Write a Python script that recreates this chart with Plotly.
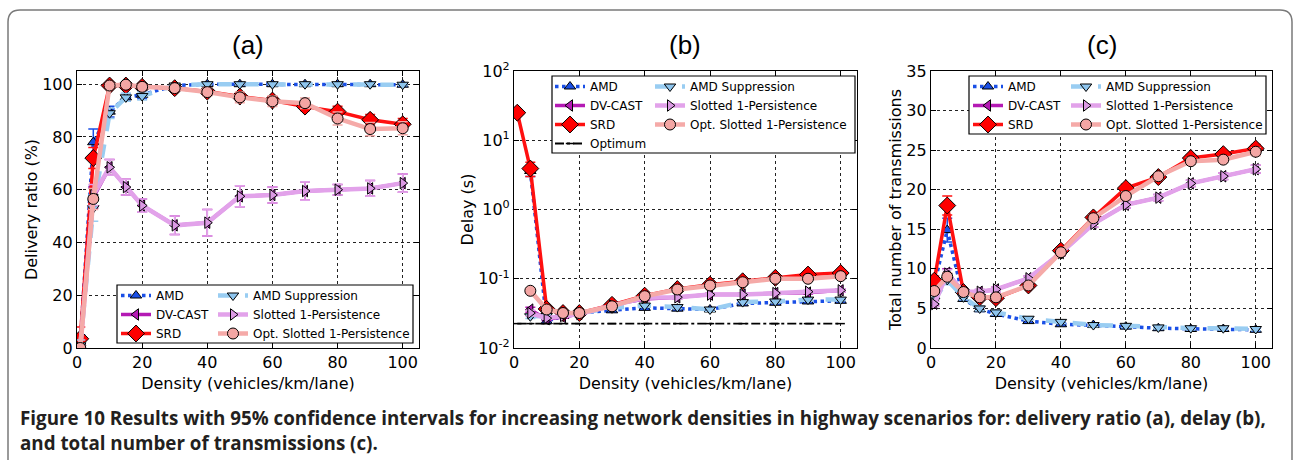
import plotly.graph_objects as go

W, H = 1294, 460

# ---------------- data ----------------
density = [1, 5, 10, 15, 20, 30, 40, 50, 60, 70, 80, 90, 100]

series_names = ["AMD", "DV-CAST", "SRD", "AMD Suppression",
                "Slotted 1-Persistence", "Opt. Slotted 1-Persistence"]

# (a) delivery ratio (%)
dr_amd      = [2.0, 78.0, 89.6, 95.0, 96.0, 99.5, 100, 100, 100, 100, 100, 100, 99.8]
dr_dvcast   = [0.0, 57.0, 68.5, 61.0, 54.0, 46.5, 47.5, 57.5, 58.0, 59.5, 60.0, 60.5, 62.5]
dr_srd      = [3.5, 72.0, 99.5, 99.5, 99.0, 98.5, 97.2, 95.3, 93.8, 91.5, 89.6, 86.5, 84.8]
dr_amdsup   = [1.0, 53.0, 89.0, 95.0, 95.5, 99.5, 100, 100, 100, 100, 100, 100, 99.8]
dr_slotted  = [0.0, 58.0, 68.5, 61.0, 54.0, 46.5, 47.5, 57.5, 58.0, 59.5, 60.0, 60.5, 62.5]
dr_opt      = [0.0, 56.5, 99.5, 99.8, 99.0, 98.5, 97.0, 95.0, 93.5, 92.8, 87.0, 83.0, 83.3]

dr_amd_e     = [3, 5, 2, 1.5, 1.5, 0.5, 0.3, 0.3, 0.3, 0.3, 0.3, 0.3, 0.3]
dr_dvcast_e  = [1, 4, 3, 3, 2.5, 3.5, 5, 4, 3, 3.5, 2, 3, 3.5]
dr_srd_e     = [4.5, 4, 0.5, 0.5, 0.5, 0.8, 1.2, 1.5, 1.5, 1.5, 2, 2, 2.2]
dr_amdsup_e  = [2, 5, 2, 1.5, 1.5, 0.5, 0.3, 0.3, 0.3, 0.3, 0.3, 0.3, 0.3]
dr_slotted_e = [1, 4, 3, 3, 2.5, 3.5, 5, 4, 3, 3.5, 2, 3, 3.5]
dr_opt_e     = [1, 4, 0.5, 0.5, 0.8, 1, 1.5, 2, 2, 2, 2.5, 2.5, 2.5]

# (b) delay (s)
dl_amd      = [None, 3.6, 0.0243, 0.029, 0.032, 0.035, 0.038, 0.037, 0.036, 0.044, 0.045, 0.047, 0.048]
dl_dvcast   = [None, 0.0358, 0.026, 0.028, 0.031, 0.042, 0.051, 0.054, 0.059, 0.059, 0.062, 0.063, 0.068]
dl_srd      = [25.0, 3.9, 0.0366, 0.032, 0.032, 0.042, 0.057, 0.071, 0.082, 0.092, 0.103, 0.115, 0.121]
dl_amdsup   = [None, 0.0287, 0.029, 0.032, 0.032, 0.038, 0.041, 0.039, 0.036, 0.046, 0.047, 0.050, 0.050]
dl_slotted  = [None, 0.032, 0.027, 0.029, 0.031, 0.041, 0.053, 0.054, 0.059, 0.059, 0.062, 0.065, 0.068]
dl_opt      = [None, 0.067, 0.036, 0.032, 0.032, 0.040, 0.056, 0.070, 0.080, 0.089, 0.100, 0.100, 0.109]
dl_optimum  = [0.0225] * 13

dl_amd_e     = [0, 0.6, 0.001, 0.001, 0.001, 0.002, 0.002, 0.002, 0.002, 0.002, 0.002, 0.002, 0.002]
dl_dvcast_e  = [0, 0.003, 0.001, 0.001, 0.001, 0.002, 0.003, 0.003, 0.003, 0.003, 0.003, 0.003, 0.004]
dl_srd_e     = [2.0, 0.9, 0.002, 0.001, 0.001, 0.002, 0.003, 0.003, 0.004, 0.004, 0.005, 0.005, 0.006]
dl_amdsup_e  = [0, 0.002, 0.001, 0.001, 0.001, 0.002, 0.002, 0.002, 0.002, 0.002, 0.002, 0.002, 0.002]
dl_slotted_e = [0, 0.003, 0.001, 0.001, 0.001, 0.002, 0.003, 0.003, 0.003, 0.003, 0.003, 0.003, 0.004]
dl_opt_e     = [0, 0.004, 0.002, 0.001, 0.001, 0.002, 0.003, 0.003, 0.004, 0.004, 0.005, 0.005, 0.006]

# (c) total number of transmissions
tx_amd      = [8.0, 14.9, 6.2, 4.9, 4.3, 3.4, 3.0, 2.9, 2.7, 2.5, 2.4, 2.4, 2.3]
tx_dvcast   = [5.6, 9.5, 7.1, 7.1, 7.4, 8.8, 12.0, 15.7, 18.1, 19.0, 20.8, 21.7, 22.6]
tx_srd      = [8.5, 18.0, 7.07, 6.4, 6.3, 7.9, 12.3, 16.5, 20.2, 21.6, 24.0, 24.5, 25.2]
tx_amdsup   = [6.0, 8.6, 6.4, 5.0, 4.5, 3.7, 3.3, 2.9, 2.8, 2.6, 2.5, 2.5, 2.4]
tx_slotted  = [5.55, 9.4, 7.1, 7.1, 7.4, 8.8, 12.0, 15.7, 18.1, 19.0, 20.8, 21.7, 22.6]
tx_opt      = [7.2, 9.0, 7.07, 6.4, 6.4, 7.9, 12.1, 16.4, 19.2, 21.7, 23.6, 23.8, 24.8]

tx_amd_e     = [0.5, 1.5, 0.3, 0.3, 0.3, 0.2, 0.2, 0.2, 0.2, 0.2, 0.2, 0.2, 0.2]
tx_dvcast_e  = [0.3, 0.5, 0.3, 0.3, 0.3, 0.3, 0.4, 0.4, 0.4, 0.4, 0.4, 0.4, 0.5]
tx_srd_e     = [0.6, 1.2, 0.3, 0.3, 0.3, 0.3, 0.4, 0.4, 0.5, 0.4, 0.4, 0.4, 0.5]
tx_amdsup_e  = [0.4, 0.6, 0.3, 0.3, 0.3, 0.2, 0.2, 0.2, 0.2, 0.2, 0.2, 0.2, 0.2]
tx_slotted_e = [0.3, 0.5, 0.3, 0.3, 0.3, 0.3, 0.4, 0.4, 0.4, 0.4, 0.4, 0.4, 0.5]
tx_opt_e     = [0.4, 0.5, 0.3, 0.3, 0.3, 0.3, 0.4, 0.4, 0.5, 0.4, 0.4, 0.4, 0.5]

panel_titles = ["(a)", "(b)", "(c)"]
x_title = "Density (vehicles/km/lane)"
y_titles = ["Delivery ratio (%)", "Delay (s)", "Total number of transmissions"]
x_ticks = [0, 20, 40, 60, 80, 100]
ya_ticks = [0, 20, 40, 60, 80, 100]
yb_ticks = [0.01, 0.1, 1, 10, 100]
yb_ticktext = ["10<sup>-2</sup>", "10<sup>-1</sup>", "10<sup>0</sup>", "10<sup>1</sup>", "10<sup>2</sup>"]
yc_ticks = [0, 5, 10, 15, 20, 25, 30, 35]
caption_1 = ("Figure 10 Results with 95% confidence intervals for increasing network densities "
             "in highway scenarios for: delivery ratio (a), delay (b),")
caption_2 = "and total number of transmissions (c)."

# ---------------- styles ----------------
styles = {
    "AMD": dict(color="#1a4fe6", dash="dot", width=3.5, symbol="triangle-up", mfill="#1a4fe6", size=10),
    "DV-CAST": dict(color="#b41ab4", dash="solid", width=3.5, symbol="triangle-left", mfill="#b41ab4", size=10),
    "SRD": dict(color="#ff1010", dash="solid", width=3.5, symbol="diamond", mfill="#ff0000", size=13),
    "AMD Suppression": dict(color="#99cdf2", dash="dash", width=4.5, symbol="triangle-down", mfill="#8ec5ee", size=10),
    "Slotted 1-Persistence": dict(color="#e2a2ea", dash="solid", width=4.5, symbol="triangle-right", mfill="#dc9ae4", size=10),
    "Opt. Slotted 1-Persistence": dict(color="#f5aaa8", dash="solid", width=4.5, symbol="circle", mfill="#f4a6a4", size=11),
}

W_px = lambda v: v / W
H_px = lambda v: 1 - v / H

fig = go.Figure()

panels = [
    ("x", "y", [dr_amd, dr_dvcast, dr_srd, dr_amdsup, dr_slotted, dr_opt],
     [dr_amd_e, dr_dvcast_e, dr_srd_e, dr_amdsup_e, dr_slotted_e, dr_opt_e], ("legend", "legend2")),
    ("x2", "y2", [dl_amd, dl_dvcast, dl_srd, dl_amdsup, dl_slotted, dl_opt],
     [dl_amd_e, dl_dvcast_e, dl_srd_e, dl_amdsup_e, dl_slotted_e, dl_opt_e], ("legend3", "legend4")),
    ("x3", "y3", [tx_amd, tx_dvcast, tx_srd, tx_amdsup, tx_slotted, tx_opt],
     [tx_amd_e, tx_dvcast_e, tx_srd_e, tx_amdsup_e, tx_slotted_e, tx_opt_e], ("legend5", "legend6")),
]

for xa, ya, ys, es, (lg1, lg2) in panels:
    for i, name in enumerate(series_names):
        st = styles[name]
        fig.add_trace(go.Scatter(
            x=density, y=ys[i], name=name, xaxis=xa, yaxis=ya,
            mode="lines+markers",
            line=dict(color=st["color"], dash=st["dash"], width=st["width"]),
            marker=dict(symbol=st["symbol"], size=st["size"], color=st["mfill"],
                        line=dict(color="black", width=1)),
            error_y=dict(type="data", array=es[i], visible=True, color=st["color"],
                         thickness=1.5, width=5),
            legend=lg1 if i < 3 else lg2,
            legendrank=i + 1,
        ))
    if xa == "x2":
        fig.add_trace(go.Scatter(
            x=density, y=dl_optimum, name="Optimum", xaxis=xa, yaxis=ya,
            mode="lines+markers",
            line=dict(color="black", dash="dashdot", width=1.8),
            marker=dict(symbol="line-ew", size=6, color="black",
                        line=dict(color="black", width=1.5)),
            legend="legend3", legendrank=10,
        ))

# ---------------- layout ----------------
def dom_x(l, r):
    return [l / W, r / W]

ydom = [1 - 348 / H, 1 - 71 / H]
axis_common = dict(showline=True, mirror="allticks", linecolor="black", linewidth=1.2,
                   ticks="inside", ticklen=5, tickcolor="black",
                   showgrid=True, gridcolor="#222", griddash="dot", gridwidth=0.8,
                   zeroline=False, automargin=False,
                   tickfont=dict(family="DejaVu Sans", size=16, color="black"))
title_font = dict(family="DejaVu Sans", size=16, color="black")

fig.update_layout(
    width=W, height=H, margin=dict(l=0, r=0, t=0, b=0),
    paper_bgcolor="white", plot_bgcolor="white", showlegend=True,
    xaxis=dict(domain=dom_x(77, 419), range=[0, 105], tickvals=x_ticks, anchor="y",
               title=dict(text=x_title, font=title_font, standoff=6), **axis_common),
    yaxis=dict(domain=ydom, range=[0, 105], tickvals=ya_ticks, anchor="x",
               title=dict(text=y_titles[0], font=title_font, standoff=0), **axis_common),
    xaxis2=dict(domain=dom_x(514, 857), range=[0, 105], tickvals=x_ticks, anchor="y2",
                title=dict(text=x_title, font=title_font, standoff=6), **axis_common),
    yaxis2=dict(domain=ydom, type="log", range=[-2, 2], tickvals=yb_ticks, ticktext=yb_ticktext,
                anchor="x2", title=dict(text=y_titles[1], font=title_font, standoff=0), **axis_common),
    xaxis3=dict(domain=dom_x(931, 1272), range=[0, 105], tickvals=x_ticks, anchor="y3",
                title=dict(text=x_title, font=title_font, standoff=6), **axis_common),
    yaxis3=dict(domain=ydom, range=[0, 35], tickvals=yc_ticks, anchor="x3",
                title=dict(text=y_titles[2], font=title_font, standoff=0), **axis_common),
)

leg_common = dict(orientation="v", bgcolor="rgba(0,0,0,0)", borderwidth=0,
                  font=dict(family="DejaVu Sans", size=12, color="black"),
                  xanchor="left", yanchor="top", tracegroupgap=0, itemwidth=30)
legend_pos = {
    "legend": (116, 281), "legend2": (213, 281),
    "legend3": (550, 72), "legend4": (650, 72),
    "legend5": (968, 72), "legend6": (1066, 72),
}
for k, (lx, ly) in legend_pos.items():
    fig.update_layout({k: dict(x=lx / W, y=1 - ly / H, **leg_common)})

shapes = []
# legend frames (opaque, above data; legend text is drawn on top of them)
for (x0, y0, x1, y1) in [(117, 285, 413, 343), (552, 76, 855, 153), (969, 76, 1266, 134)]:
    shapes.append(dict(type="rect", xref="paper", yref="paper",
                       x0=x0 / W, x1=x1 / W, y0=1 - y1 / H, y1=1 - y0 / H,
                       line=dict(color="black", width=1.2), fillcolor="white", layer="above"))
# figure frame (rounded)
fx0, fy0, fx1, fy1, r = 8, 10, 1292, 470, 12
path = (f"M {W_px(fx0)},{H_px(fy1)} L {W_px(fx0)},{H_px(fy0 + r)} "
        f"Q {W_px(fx0)},{H_px(fy0)} {W_px(fx0 + r)},{H_px(fy0)} "
        f"L {W_px(fx1 - r)},{H_px(fy0)} Q {W_px(fx1)},{H_px(fy0)} {W_px(fx1)},{H_px(fy0 + r)} "
        f"L {W_px(fx1)},{H_px(fy1)}")
shapes.append(dict(type="path", xref="paper", yref="paper", path=path,
                   line=dict(color="#7a7a7a", width=1.5)))
fig.update_layout(shapes=shapes)

annotations = []
for t, (l, rr) in zip(panel_titles, [(77, 419), (514, 857), (931, 1272)]):
    annotations.append(dict(text=t, x=(l + rr) / 2 / W, y=1 - 45 / H, xref="paper", yref="paper",
                            showarrow=False, xanchor="center", yanchor="middle",
                            font=dict(family="Liberation Sans", size=26, color="black")))
for txt, yy in [(caption_1, 418), (caption_2, 443)]:
    annotations.append(dict(text=f"<b>{txt}</b>", x=18 / W, y=1 - yy / H, xref="paper", yref="paper",
                            showarrow=False, xanchor="left", yanchor="middle",
                            font=dict(family="Open Sans", size=18.8, color="#231f20")))
fig.update_layout(annotations=annotations)

fig.write_html("out.html", config={"displayModeBar": False},
               post_script="document.body.style.margin='0';document.body.style.overflow='hidden';")
